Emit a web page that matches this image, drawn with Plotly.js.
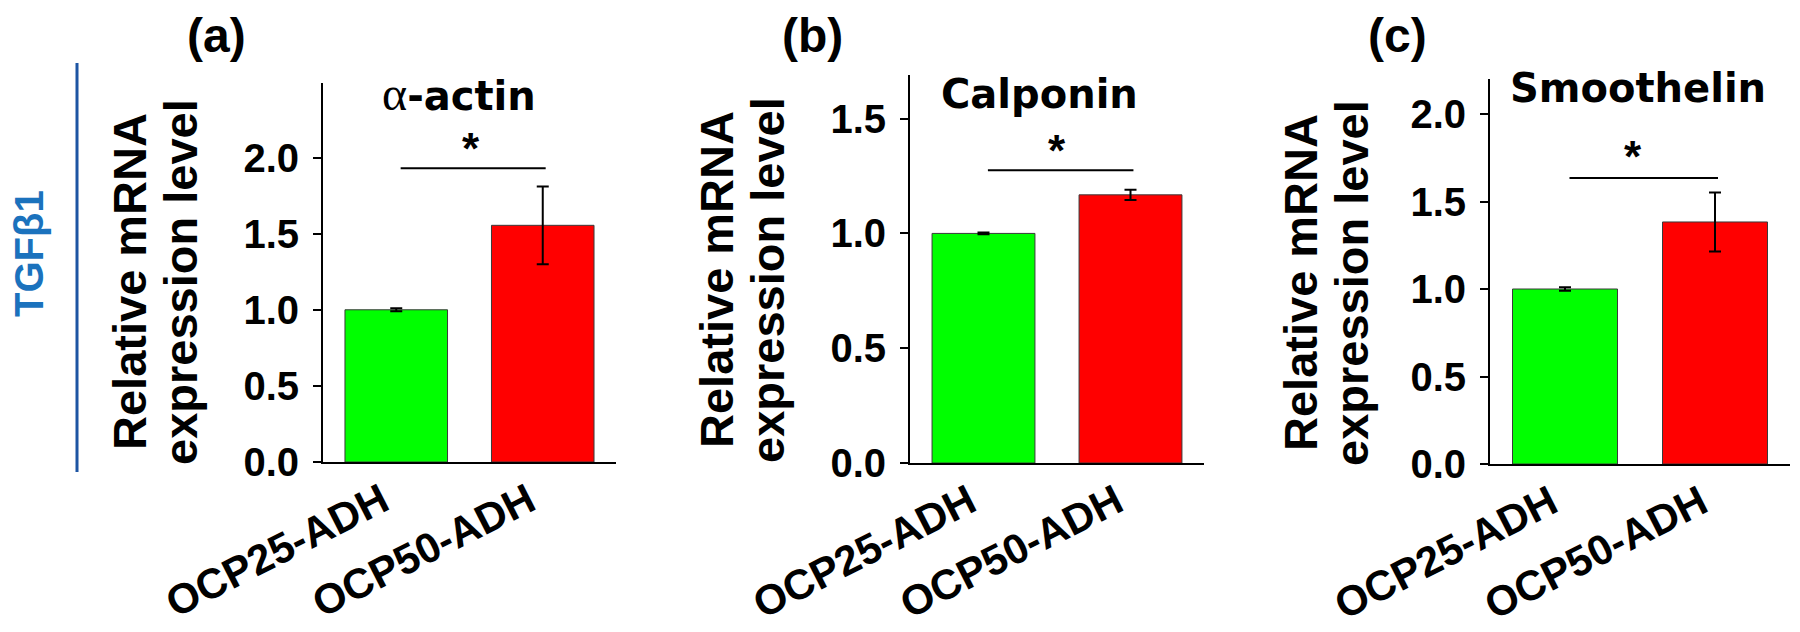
<!DOCTYPE html>
<html><head><meta charset="utf-8">
<script src="https://cdn.plot.ly/plotly-3.0.1.min.js"></script>
<style>html,body{margin:0;padding:0;background:#fff}</style>
</head><body><div id="chart" style="width:1800px;height:632px"></div>
<script>
// ---- data ----
const categories = ['OCP25-ADH', 'OCP50-ADH'];
const panelLabels = ['(a)', '(b)', '(c)'];
const geneNames = ["<span style=\"font-family:'Liberation Serif';font-weight:normal;font-size:48px\">α</span>-actin", 'Calponin', 'Smoothelin'];
const actinMean = [1.00, 1.555];
const actinErr = [0.01, 0.255];
const calponinMean = [1.00, 1.168];
const calponinErr = [0.004, 0.022];
const smoothelinMean = [1.00, 1.383];
const smoothelinErr = [0.01, 0.168];
const sigLineY = [1.93, 1.275, 1.635];
const sigLineX = [0.03, 1.02];
const starY = [2.12, 1.40, 1.81];
const starX = [0.51, 0.50, 0.45];
const yMax = [2.49, 1.69, 2.2];
const yTickVals = [[0, 0.5, 1.0, 1.5, 2.0], [0, 0.5, 1.0, 1.5], [0, 0.5, 1.0, 1.5, 2.0]];
const barColors = ['#00ff00', '#ff0000'];
const sideLabel = 'TGFβ1';
const yTitleLines = ['Relative mRNA', 'expression level'];

// ---- layout geometry (pixels) ----
const W = 1800, H = 632;
const px = v => v / W;
const py = v => 1 - v / H;
const panels = [
  {x0: 323, x1: 616, yTop: 83, yBot: 462, t1: 130, t2: 181, tY: 282, label: [216, 36], title: [459, 93]},
  {x0: 910, x1: 1204, yTop: 75, yBot: 463, t1: 717, t2: 768, tY: 280, label: [812, 36], title: [1039, 94]},
  {x0: 1490, x1: 1790, yTop: 79, yBot: 464, t1: 1301, t2: 1352, tY: 283, label: [1397, 36], title: [1638, 88]}
];
const means = [actinMean, calponinMean, smoothelinMean];
const errs = [actinErr, calponinErr, smoothelinErr];

const FONT = "'Liberation Sans', Arial, sans-serif";
const WIDE = "'DejaVu Sans', sans-serif";

const traces = [];
const layout = {
  width: W, height: H,
  margin: {l: 0, r: 0, t: 0, b: 0},
  paper_bgcolor: '#fff', plot_bgcolor: 'rgba(0,0,0,0)',
  showlegend: false,
  bargap: 0.3,
  font: {family: FONT, color: '#000'},
  annotations: [], shapes: []
};

panels.forEach((p, i) => {
  const sx = i === 0 ? '' : String(i + 1);
  traces.push({
    type: 'bar', x: categories, y: means[i],
    xaxis: 'x' + sx, yaxis: 'y' + sx,
    marker: {color: barColors, line: {color: '#3a3a3a', width: 1}},
    error_y: {type: 'data', array: errs[i], visible: true, color: '#000', thickness: 2, width: 6},
    hoverinfo: 'skip'
  });
  layout['xaxis' + sx] = {
    domain: [px(p.x0), px(p.x1)], anchor: 'y' + sx,
    range: [-0.5, 1.5], showline: true, linecolor: '#000', linewidth: 2,
    ticks: '', showgrid: false, zeroline: false, tickangle: -27, ticklabelshift: -14,
    ticklabelstandoff: -4,
    tickfont: {family: FONT, size: 42, weight: 700, color: '#000'}
  };
  layout['yaxis' + sx] = {
    domain: [py(p.yBot), py(p.yTop)], anchor: 'x' + sx,
    range: [0, yMax[i]], showline: true, linecolor: '#000', linewidth: 2,
    ticks: 'outside', ticklen: 8, tickwidth: 2, tickcolor: '#000',
    tickvals: yTickVals[i], ticktext: yTickVals[i].map(v => v.toFixed(1)),
    showgrid: false, zeroline: false, ticklabelstandoff: 6,
    tickfont: {family: FONT, size: 40, weight: 700, color: '#000'}
  };
  // significance bracket
  layout.shapes.push({
    type: 'line', xref: 'x' + sx, yref: 'y' + sx,
    x0: sigLineX[0], x1: sigLineX[1], y0: sigLineY[i], y1: sigLineY[i],
    line: {color: '#000', width: 2}
  });
  layout.annotations.push({
    xref: 'x' + sx, yref: 'y' + sx, x: starX[i], y: starY[i],
    text: '*', showarrow: false, xanchor: 'center', yanchor: 'middle', yshift: -9,
    font: {family: FONT, size: 44, weight: 700, color: '#000'}
  });
  // gene title
  layout.annotations.push({
    xref: 'paper', yref: 'paper', x: px(p.title[0]), y: py(p.title[1]),
    text: geneNames[i], showarrow: false, xanchor: 'center', yanchor: 'middle',
    font: {family: WIDE, size: 40, weight: 700, color: '#000'}
  });
  // panel label
  layout.annotations.push({
    xref: 'paper', yref: 'paper', x: px(p.label[0]), y: py(p.label[1]),
    text: panelLabels[i], showarrow: false, xanchor: 'center', yanchor: 'middle',
    font: {family: FONT, size: 48, weight: 700, color: '#000'}
  });
  // y-axis title (two lines)
  [p.t1, p.t2].forEach((tx, k) => {
    layout.annotations.push({
      xref: 'paper', yref: 'paper', x: px(tx), y: py(p.tY),
      text: yTitleLines[k], showarrow: false, textangle: -90,
      xanchor: 'center', yanchor: 'middle',
      font: {family: FONT, size: 47, weight: 700, color: '#000'}
    });
  });
});

// side label and blue rule
layout.annotations.push({
  xref: 'paper', yref: 'paper', x: px(29), y: py(254),
  text: sideLabel, showarrow: false, textangle: -90, xanchor: 'center', yanchor: 'middle',
  font: {family: FONT, size: 40, weight: 700, color: '#1b72bd'}
});
layout.shapes.push({
  type: 'line', xref: 'paper', yref: 'paper',
  x0: px(77), x1: px(77), y0: py(63), y1: py(472),
  line: {color: '#1d55a3', width: 3}
});

Plotly.newPlot('chart', traces, layout, {displayModeBar: false, staticPlot: true});
</script>
</body></html>
